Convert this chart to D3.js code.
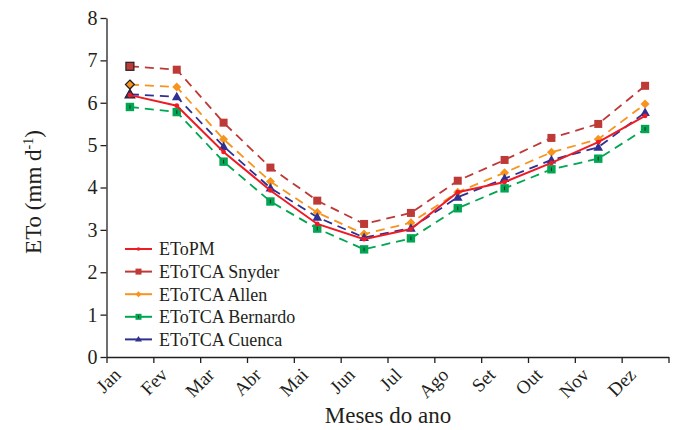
<!DOCTYPE html>
<html>
<head>
<meta charset="utf-8">
<script src="https://cdn.jsdelivr.net/npm/d3@7"></script>
<style>
	body { margin: 0; background: #fff; }
	svg text { font-family: "Liberation Serif", "Times New Roman", serif; fill: #231f20; }
</style>
</head>
<body>
<div id="chart"></div>
<script>
var meses = ["Jan", "Fev", "Mar", "Abr", "Mai", "Jun", "Jul", "Ago", "Set", "Out", "Nov", "Dez"];
var yTicks = [0, 1, 2, 3, 4, 5, 6, 7, 8];

var etoPM     = [6.18, 5.93, 4.84, 3.93, 3.14, 2.78, 3.02, 3.89, 4.13, 4.58, 5.07, 5.69];
var snyder    = [6.86, 6.78, 5.53, 4.47, 3.69, 3.14, 3.40, 4.16, 4.65, 5.17, 5.50, 6.40];
var allen     = [6.43, 6.37, 5.14, 4.14, 3.41, 2.90, 3.17, 3.89, 4.35, 4.83, 5.14, 5.97];
var bernardo  = [5.90, 5.78, 4.61, 3.67, 3.03, 2.54, 2.80, 3.51, 3.98, 4.43, 4.68, 5.38];
var cuenca    = [6.20, 6.14, 4.97, 3.99, 3.30, 2.82, 3.04, 3.77, 4.21, 4.65, 4.95, 5.77];

var seriesNames = ["EToPM", "EToTCA Snyder", "EToTCA Allen", "EToTCA Bernardo", "EToTCA Cuenca"];

var w = 677,
	h = 430,
	svg = d3
		.select("#chart")
		.append("svg")
		.attr("width", w)
		.attr("height", h);

var margin = { top: 18, right: 8.5, bottom: 73, left: 106.5 };

var series = [
	{ name: seriesNames[0], values: etoPM,    color: "#ed1c24", dash: null,  marker: "dot" },
	{ name: seriesNames[1], values: snyder,   color: "#be3a36", dash: "9,6", marker: "square" },
	{ name: seriesNames[2], values: allen,    color: "#f7941e", dash: "9,6", marker: "diamond" },
	{ name: seriesNames[3], values: bernardo, color: "#00a651", dash: "9,6", marker: "green" },
	{ name: seriesNames[4], values: cuenca,   color: "#2e3192", dash: "9,6", marker: "triangle" }
];

var x = d3.scaleBand()
	.domain(meses)
	.range([margin.left, w - margin.right])
	.padding(0);

// month boundaries for the tick marks
var xEdge = d3.scaleLinear()
	.domain([0, meses.length])
	.range([margin.left, w - margin.right]);

var y = d3.scaleLinear()
	.domain([0, 8])
	.range([h - margin.bottom, margin.top]);

function cx(i) { return x(meses[i]) + x.bandwidth() / 2; }

// Axes
var gx = svg.append("g")
	.attr("transform", `translate(0, ${h - margin.bottom})`)
	.call(d3.axisBottom(xEdge).ticks(meses.length).tickFormat("").tickSize(6).tickSizeOuter(0));
gx.select(".domain").attr("stroke", "#231f20").attr("stroke-width", 1.3);
gx.selectAll(".tick line").attr("stroke", "#231f20").attr("stroke-width", 1.3);

svg.append("g")
	.selectAll("text")
	.data(meses)
	.enter()
	.append("text")
	.attr("transform", function(d, i) {
		return `translate(${cx(i) - 8}, ${h - margin.bottom + 19}) rotate(-45)`;
	})
	.attr("text-anchor", "end")
	.style("font-size", "19px")
	.text(function(d) { return d; });

var gy = svg.append("g")
	.attr("transform", `translate(${margin.left}, 0)`)
	.call(d3.axisLeft(y).tickValues(yTicks).tickFormat(d3.format("d")).tickSize(6).tickSizeOuter(0));
gy.select(".domain").attr("stroke", "#231f20").attr("stroke-width", 1.3);
gy.selectAll(".tick line").attr("stroke", "#231f20").attr("stroke-width", 1.3);
gy.selectAll(".tick text")
	.attr("x", -9)
	.style("font-size", "20px")
	.style("font-family", "\"Liberation Serif\", \"Times New Roman\", serif")
	.attr("fill", "#231f20");

// Axis titles
svg.append("text")
	.attr("x", 388)
	.attr("y", 423)
	.attr("text-anchor", "middle")
	.style("font-size", "23px")
	.text("Meses do ano");

var yt = svg.append("text")
	.attr("transform", "translate(41, 192) rotate(-90)")
	.attr("text-anchor", "middle")
	.style("font-size", "23px");
yt.append("tspan").text("ETo (mm d");
yt.append("tspan").attr("dy", -8).style("font-size", "14px").text("-1");
yt.append("tspan").attr("dy", 8).text(")");

// markers
function drawMarker(g, kind, color, px, py, first) {
	var edge = first ? "#231f20" : color;
	if (kind == "dot") {
		g.append("circle").attr("cx", px).attr("cy", py).attr("r", 2.4).attr("fill", color);
	} else if (kind == "square") {
		g.append("rect").attr("x", px - 4).attr("y", py - 4).attr("width", 8).attr("height", 8)
			.attr("fill", color).attr("stroke", edge).attr("stroke-width", first ? 1.2 : 0);
	} else if (kind == "green") {
		g.append("rect").attr("x", px - 4.2).attr("y", py - 4.2).attr("width", 8.4).attr("height", 8.4)
			.attr("fill", color);
		g.append("line").attr("x1", px).attr("x2", px).attr("y1", py - 1.8).attr("y2", py + 1.8)
			.attr("stroke", "#231f20").attr("stroke-width", 0.9);
	} else if (kind == "diamond") {
		g.append("path").attr("d", `M${px},${py - 4.5}L${px + 4.5},${py}L${px},${py + 4.5}L${px - 4.5},${py}Z`)
			.attr("fill", color).attr("stroke", edge).attr("stroke-width", first ? 1.2 : 0);
	} else if (kind == "triangle") {
		g.append("path").attr("d", `M${px},${py - 5}L${px + 4.8},${py + 3.5}L${px - 4.8},${py + 3.5}Z`)
			.attr("fill", color).attr("stroke", edge).attr("stroke-width", first ? 1.2 : 0);
	}
}

var line = d3.line()
	.x(function(d, i) { return cx(i); })
	.y(function(d) { return y(d); });

// draw dashed series first, red solid line on top
var order = [3, 1, 2, 4, 0];
order.forEach(function(k) {
	var s = series[k];
	var g = svg.append("g");
	g.append("path")
		.datum(s.values)
		.attr("d", line)
		.attr("fill", "none")
		.attr("stroke", s.color)
		.attr("stroke-width", s.dash ? 1.8 : 2)
		.attr("stroke-dasharray", s.dash);
	s.values.forEach(function(v, i) {
		drawMarker(g, s.marker, s.color, cx(i), y(v), i == 0 && s.marker != "dot" && s.marker != "green");
	});
});

// Legend
var leg = svg.append("g");
series.forEach(function(s, i) {
	var ly = 249 + i * 22.6;
	leg.append("line")
		.attr("x1", 125).attr("x2", 152)
		.attr("y1", ly).attr("y2", ly)
		.attr("stroke", s.color)
		.attr("stroke-width", 2);
	var m = leg.append("g");
	if (s.marker == "dot") {
		m.append("circle").attr("cx", 138.5).attr("cy", ly).attr("r", 1.8).attr("fill", s.color);
	} else if (s.marker == "triangle") {
		m.append("path").attr("d", `M138.5,${ly - 3.5}L142,${ly + 2}L135,${ly + 2}Z`).attr("fill", s.color);
	} else if (s.marker == "diamond") {
		m.append("path").attr("d", `M138.5,${ly - 3}L141.5,${ly}L138.5,${ly + 3}L135.5,${ly}Z`).attr("fill", s.color);
	} else {
		m.append("rect").attr("x", 135.5).attr("y", ly - 3).attr("width", 6).attr("height", 6).attr("fill", s.color);
		if (s.marker == "green") {
			m.append("line").attr("x1", 138.5).attr("x2", 138.5).attr("y1", ly - 1.3).attr("y2", ly + 1.3)
				.attr("stroke", "#231f20").attr("stroke-width", 0.8);
		}
	}
	leg.append("text")
		.attr("x", 159)
		.attr("y", ly)
		.attr("dy", "0.35em")
		.style("font-size", "18px")
		.text(s.name);
});
</script>
</body>
</html>
